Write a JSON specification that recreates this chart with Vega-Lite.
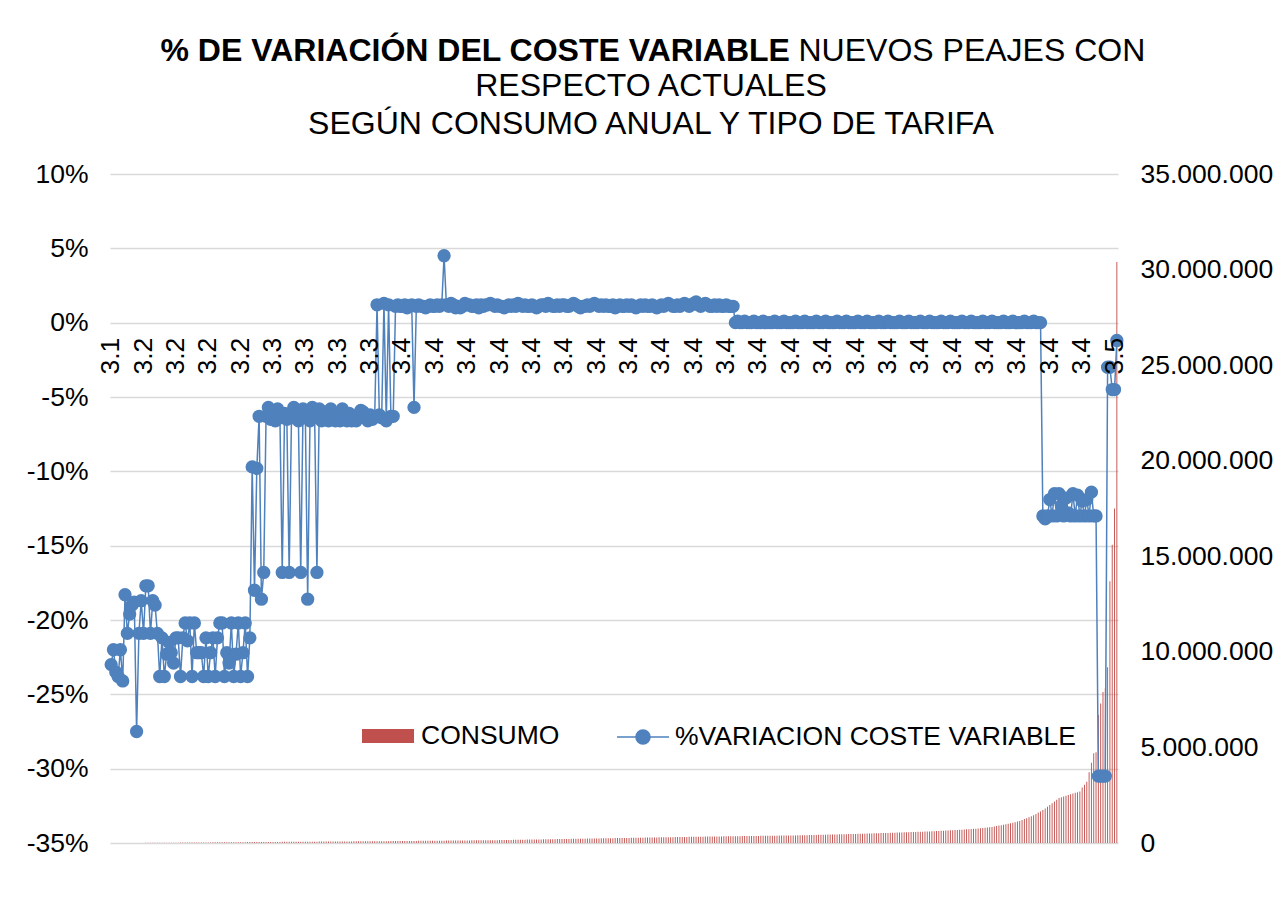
{
"$schema": "https://vega.github.io/schema/vega-lite/v6.json",
"width": 1008,
"height": 669,
"autosize": "none",
"padding": {"left": 110, "top": 174, "right": 167, "bottom": 81},
"background": "white",
"config": {"font": "Liberation Sans", "view": {"stroke": null}},
"title": {"text": ["RESPECTO ACTUALES", "SEGÚN CONSUMO ANUAL Y TIPO DE TARIFA"], "fontSize": 32, "fontWeight": "normal", "color": "#000000", "lineHeight": 38, "anchor": "middle", "dx": 37, "offset": -107},
"data": {"values": [
{"i":0,"t":"3.1","p":-23.0,"c":400},{"i":1,"t":"3.1","p":-22.0,"c":700},{"i":2,"t":"3.1","p":-23.5,"c":1000},{"i":3,"t":"3.1","p":-23.8,"c":1300},{"i":4,"t":"3.1","p":-22.0,"c":1600},{"i":5,"t":"3.1","p":-24.1,"c":2000},{"i":6,"t":"3.1","p":-18.3,"c":2300},{"i":7,"t":"3.1","p":-20.9,"c":2700},{"i":8,"t":"3.1","p":-19.6,"c":3000},{"i":9,"t":"3.1","p":-19.0,"c":3400},{"i":10,"t":"3.1","p":-18.8,"c":3800},{"i":11,"t":"3.1","p":-27.5,"c":4200},{"i":12,"t":"3.1","p":-20.9,"c":4700},
{"i":13,"t":"3.2","p":-18.7,"c":5100},{"i":14,"t":"3.2","p":-20.9,"c":6000},{"i":15,"t":"3.2","p":-17.7,"c":6900},{"i":16,"t":"3.2","p":-17.7,"c":7800},{"i":17,"t":"3.2","p":-20.9,"c":8700},{"i":18,"t":"3.2","p":-18.7,"c":9600},{"i":19,"t":"3.2","p":-19.0,"c":10500},{"i":20,"t":"3.2","p":-20.9,"c":11400},{"i":21,"t":"3.2","p":-23.8,"c":12300},{"i":22,"t":"3.2","p":-21.2,"c":13200},{"i":23,"t":"3.2","p":-23.8,"c":14100},{"i":24,"t":"3.2","p":-22.3,"c":15000},{"i":25,"t":"3.2","p":-21.5,"c":15900},{"i":26,"t":"3.2","p":-22.2,"c":16800},{"i":27,"t":"3.2","p":-22.9,"c":17700},{"i":28,"t":"3.2","p":-21.2,"c":18600},{"i":29,"t":"3.2","p":-21.2,"c":19500},{"i":30,"t":"3.2","p":-23.8,"c":20400},{"i":31,"t":"3.2","p":-21.2,"c":21300},{"i":32,"t":"3.2","p":-20.2,"c":22200},{"i":33,"t":"3.2","p":-21.4,"c":23100},{"i":34,"t":"3.2","p":-20.2,"c":24000},{"i":35,"t":"3.2","p":-23.8,"c":24900},{"i":36,"t":"3.2","p":-20.2,"c":25800},{"i":37,"t":"3.2","p":-22.2,"c":26700},{"i":38,"t":"3.2","p":-22.2,"c":27600},{"i":39,"t":"3.2","p":-22.2,"c":28500},{"i":40,"t":"3.2","p":-23.8,"c":29400},{"i":41,"t":"3.2","p":-21.2,"c":30300},{"i":42,"t":"3.2","p":-23.8,"c":31200},{"i":43,"t":"3.2","p":-22.2,"c":32100},{"i":44,"t":"3.2","p":-21.2,"c":33000},{"i":45,"t":"3.2","p":-23.8,"c":33900},{"i":46,"t":"3.2","p":-21.2,"c":34800},{"i":47,"t":"3.2","p":-20.2,"c":35700},{"i":48,"t":"3.2","p":-20.2,"c":36600},{"i":49,"t":"3.2","p":-23.8,"c":37500},{"i":50,"t":"3.2","p":-22.2,"c":38400},{"i":51,"t":"3.2","p":-22.9,"c":39300},{"i":52,"t":"3.2","p":-20.2,"c":40200},{"i":53,"t":"3.2","p":-23.8,"c":41100},{"i":54,"t":"3.2","p":-22.3,"c":42000},{"i":55,"t":"3.2","p":-20.2,"c":42900},{"i":56,"t":"3.2","p":-23.8,"c":43800},{"i":57,"t":"3.2","p":-22.2,"c":44700},{"i":58,"t":"3.2","p":-20.2,"c":45600},{"i":59,"t":"3.2","p":-23.8,"c":46500},{"i":60,"t":"3.2","p":-21.2,"c":47400},{"i":61,"t":"3.2","p":-9.7,"c":48300},{"i":62,"t":"3.2","p":-18.0,"c":49200},
{"i":63,"t":"3.3","p":-9.8,"c":50100},{"i":64,"t":"3.3","p":-6.3,"c":50900},{"i":65,"t":"3.3","p":-18.6,"c":51800},{"i":66,"t":"3.3","p":-16.8,"c":52600},{"i":67,"t":"3.3","p":-6.3,"c":53400},{"i":68,"t":"3.3","p":-5.7,"c":54300},{"i":69,"t":"3.3","p":-6.5,"c":55100},{"i":70,"t":"3.3","p":-6.0,"c":55900},{"i":71,"t":"3.3","p":-6.6,"c":56800},{"i":72,"t":"3.3","p":-5.8,"c":57600},{"i":73,"t":"3.3","p":-6.4,"c":58400},{"i":74,"t":"3.3","p":-16.8,"c":59300},{"i":75,"t":"3.3","p":-6.1,"c":60100},{"i":76,"t":"3.3","p":-6.5,"c":60900},{"i":77,"t":"3.3","p":-16.8,"c":61800},{"i":78,"t":"3.3","p":-6.4,"c":62600},{"i":79,"t":"3.3","p":-5.7,"c":63400},{"i":80,"t":"3.3","p":-6.3,"c":64300},{"i":81,"t":"3.3","p":-6.6,"c":65100},{"i":82,"t":"3.3","p":-16.8,"c":65900},{"i":83,"t":"3.3","p":-5.8,"c":66800},{"i":84,"t":"3.3","p":-6.4,"c":67600},{"i":85,"t":"3.3","p":-18.6,"c":68400},{"i":86,"t":"3.3","p":-6.6,"c":69300},{"i":87,"t":"3.3","p":-5.7,"c":70100},{"i":88,"t":"3.3","p":-6.2,"c":70900},{"i":89,"t":"3.3","p":-16.8,"c":71800},{"i":90,"t":"3.3","p":-5.8,"c":72600},{"i":91,"t":"3.3","p":-6.6,"c":73400},{"i":92,"t":"3.3","p":-6.0,"c":74300},{"i":93,"t":"3.3","p":-6.5,"c":75100},{"i":94,"t":"3.3","p":-6.6,"c":75900},{"i":95,"t":"3.3","p":-5.8,"c":76800},{"i":96,"t":"3.3","p":-6.4,"c":77600},{"i":97,"t":"3.3","p":-6.6,"c":78400},{"i":98,"t":"3.3","p":-6.2,"c":79300},{"i":99,"t":"3.3","p":-6.6,"c":80100},{"i":100,"t":"3.3","p":-5.8,"c":80900},{"i":101,"t":"3.3","p":-6.5,"c":81800},{"i":102,"t":"3.3","p":-6.6,"c":82600},{"i":103,"t":"3.3","p":-6.1,"c":83400},{"i":104,"t":"3.3","p":-6.6,"c":84300},{"i":105,"t":"3.3","p":-6.3,"c":85100},{"i":106,"t":"3.3","p":-6.6,"c":85900},{"i":107,"t":"3.3","p":-6.2,"c":86800},{"i":108,"t":"3.3","p":-5.9,"c":87600},{"i":109,"t":"3.3","p":-6.0,"c":88400},{"i":110,"t":"3.3","p":-6.4,"c":89300},{"i":111,"t":"3.3","p":-6.6,"c":90100},{"i":112,"t":"3.3","p":-6.2,"c":90900},{"i":113,"t":"3.3","p":-6.5,"c":91800},{"i":114,"t":"3.3","p":-6.3,"c":92600},{"i":115,"t":"3.3","p":1.2,"c":93400},{"i":116,"t":"3.3","p":-6.2,"c":94300},{"i":117,"t":"3.3","p":-6.4,"c":95100},{"i":118,"t":"3.3","p":1.3,"c":95900},{"i":119,"t":"3.3","p":-6.6,"c":96800},{"i":120,"t":"3.3","p":1.2,"c":97600},{"i":121,"t":"3.3","p":-6.3,"c":98400},{"i":122,"t":"3.3","p":-6.3,"c":99300},
{"i":123,"t":"3.4","p":1.1,"c":100500},{"i":124,"t":"3.4","p":1.2,"c":101600},{"i":125,"t":"3.4","p":1.1,"c":102800},{"i":126,"t":"3.4","p":1.1,"c":103900},{"i":127,"t":"3.4","p":1.2,"c":105000},{"i":128,"t":"3.4","p":1.0,"c":106100},{"i":129,"t":"3.4","p":1.1,"c":107300},{"i":130,"t":"3.4","p":1.2,"c":108400},{"i":131,"t":"3.4","p":-5.7,"c":109500},{"i":132,"t":"3.4","p":1.1,"c":110600},{"i":133,"t":"3.4","p":1.2,"c":111800},{"i":134,"t":"3.4","p":1.1,"c":112900},{"i":135,"t":"3.4","p":1.1,"c":114000},{"i":136,"t":"3.4","p":1.0,"c":115100},{"i":137,"t":"3.4","p":1.1,"c":116300},{"i":138,"t":"3.4","p":1.2,"c":117400},{"i":139,"t":"3.4","p":1.1,"c":118500},{"i":140,"t":"3.4","p":1.1,"c":119600},{"i":141,"t":"3.4","p":1.2,"c":120800},{"i":142,"t":"3.4","p":1.1,"c":121900},{"i":143,"t":"3.4","p":1.2,"c":123000},{"i":144,"t":"3.4","p":4.5,"c":124100},{"i":145,"t":"3.4","p":1.2,"c":125300},{"i":146,"t":"3.4","p":1.1,"c":126400},{"i":147,"t":"3.4","p":1.3,"c":127500},{"i":148,"t":"3.4","p":1.2,"c":128600},{"i":149,"t":"3.4","p":1.0,"c":129800},{"i":150,"t":"3.4","p":1.1,"c":130900},{"i":151,"t":"3.4","p":1.0,"c":132000},{"i":152,"t":"3.4","p":1.1,"c":133100},{"i":153,"t":"3.4","p":1.3,"c":134300},{"i":154,"t":"3.4","p":1.2,"c":135400},{"i":155,"t":"3.4","p":1.2,"c":136500},{"i":156,"t":"3.4","p":1.1,"c":137600},{"i":157,"t":"3.4","p":1.1,"c":138800},{"i":158,"t":"3.4","p":1.2,"c":139900},{"i":159,"t":"3.4","p":1.0,"c":141000},{"i":160,"t":"3.4","p":1.2,"c":142100},{"i":161,"t":"3.4","p":1.1,"c":143300},{"i":162,"t":"3.4","p":1.2,"c":144400},{"i":163,"t":"3.4","p":1.2,"c":145500},{"i":164,"t":"3.4","p":1.3,"c":146600},{"i":165,"t":"3.4","p":1.2,"c":147800},{"i":166,"t":"3.4","p":1.1,"c":148900},{"i":167,"t":"3.4","p":1.2,"c":150000},{"i":168,"t":"3.4","p":1.1,"c":152000},{"i":169,"t":"3.4","p":1.1,"c":154100},{"i":170,"t":"3.4","p":1.0,"c":156200},{"i":171,"t":"3.4","p":1.1,"c":158200},{"i":172,"t":"3.4","p":1.2,"c":160300},{"i":173,"t":"3.4","p":1.1,"c":162400},{"i":174,"t":"3.4","p":1.2,"c":164400},{"i":175,"t":"3.4","p":1.1,"c":166500},{"i":176,"t":"3.4","p":1.3,"c":168600},{"i":177,"t":"3.4","p":1.2,"c":170600},{"i":178,"t":"3.4","p":1.1,"c":172700},{"i":179,"t":"3.4","p":1.2,"c":174800},{"i":180,"t":"3.4","p":1.1,"c":176800},{"i":181,"t":"3.4","p":1.1,"c":178900},{"i":182,"t":"3.4","p":1.2,"c":181000},{"i":183,"t":"3.4","p":1.1,"c":183000},{"i":184,"t":"3.4","p":1.0,"c":185100},{"i":185,"t":"3.4","p":1.1,"c":187200},{"i":186,"t":"3.4","p":1.2,"c":189200},{"i":187,"t":"3.4","p":1.2,"c":191300},{"i":188,"t":"3.4","p":1.1,"c":193400},{"i":189,"t":"3.4","p":1.3,"c":195400},{"i":190,"t":"3.4","p":1.2,"c":197500},{"i":191,"t":"3.4","p":1.1,"c":199600},{"i":192,"t":"3.4","p":1.1,"c":201600},{"i":193,"t":"3.4","p":1.2,"c":203700},{"i":194,"t":"3.4","p":1.1,"c":205800},{"i":195,"t":"3.4","p":1.2,"c":207800},{"i":196,"t":"3.4","p":1.2,"c":209900},{"i":197,"t":"3.4","p":1.1,"c":212000},{"i":198,"t":"3.4","p":1.1,"c":214000},{"i":199,"t":"3.4","p":1.2,"c":216100},{"i":200,"t":"3.4","p":1.3,"c":218200},{"i":201,"t":"3.4","p":1.2,"c":220200},{"i":202,"t":"3.4","p":1.1,"c":222300},{"i":203,"t":"3.4","p":1.0,"c":224400},{"i":204,"t":"3.4","p":1.1,"c":226400},{"i":205,"t":"3.4","p":1.1,"c":228500},{"i":206,"t":"3.4","p":1.2,"c":230600},{"i":207,"t":"3.4","p":1.1,"c":232600},{"i":208,"t":"3.4","p":1.2,"c":234700},{"i":209,"t":"3.4","p":1.3,"c":236800},{"i":210,"t":"3.4","p":1.2,"c":238800},{"i":211,"t":"3.4","p":1.1,"c":240900},{"i":212,"t":"3.4","p":1.2,"c":243000},{"i":213,"t":"3.4","p":1.1,"c":245000},{"i":214,"t":"3.4","p":1.2,"c":247100},{"i":215,"t":"3.4","p":1.1,"c":249200},{"i":216,"t":"3.4","p":1.1,"c":251200},{"i":217,"t":"3.4","p":1.2,"c":253300},{"i":218,"t":"3.4","p":1.0,"c":255400},{"i":219,"t":"3.4","p":1.1,"c":257400},{"i":220,"t":"3.4","p":1.2,"c":259500},{"i":221,"t":"3.4","p":1.1,"c":261600},{"i":222,"t":"3.4","p":1.1,"c":263600},{"i":223,"t":"3.4","p":1.2,"c":265700},{"i":224,"t":"3.4","p":1.1,"c":267800},{"i":225,"t":"3.4","p":1.2,"c":269800},{"i":226,"t":"3.4","p":1.1,"c":271900},{"i":227,"t":"3.4","p":1.0,"c":274000},{"i":228,"t":"3.4","p":1.1,"c":276000},{"i":229,"t":"3.4","p":1.2,"c":278100},{"i":230,"t":"3.4","p":1.1,"c":280200},{"i":231,"t":"3.4","p":1.2,"c":282200},{"i":232,"t":"3.4","p":1.1,"c":284300},{"i":233,"t":"3.4","p":1.1,"c":286400},{"i":234,"t":"3.4","p":1.2,"c":288400},{"i":235,"t":"3.4","p":1.1,"c":290500},{"i":236,"t":"3.4","p":1.0,"c":292600},{"i":237,"t":"3.4","p":1.1,"c":294600},{"i":238,"t":"3.4","p":1.2,"c":296700},{"i":239,"t":"3.4","p":1.1,"c":298800},{"i":240,"t":"3.4","p":1.2,"c":300800},{"i":241,"t":"3.4","p":1.3,"c":302900},{"i":242,"t":"3.4","p":1.2,"c":305000},{"i":243,"t":"3.4","p":1.1,"c":307000},{"i":244,"t":"3.4","p":1.1,"c":309100},{"i":245,"t":"3.4","p":1.2,"c":311200},{"i":246,"t":"3.4","p":1.1,"c":313200},{"i":247,"t":"3.4","p":1.2,"c":315300},{"i":248,"t":"3.4","p":1.3,"c":317400},{"i":249,"t":"3.4","p":1.2,"c":319400},{"i":250,"t":"3.4","p":1.1,"c":321500},{"i":251,"t":"3.4","p":1.2,"c":323600},{"i":252,"t":"3.4","p":1.3,"c":325600},{"i":253,"t":"3.4","p":1.4,"c":327700},{"i":254,"t":"3.4","p":1.2,"c":329800},{"i":255,"t":"3.4","p":1.1,"c":331000},{"i":256,"t":"3.4","p":1.2,"c":332600},{"i":257,"t":"3.4","p":1.3,"c":334200},{"i":258,"t":"3.4","p":1.2,"c":335900},{"i":259,"t":"3.4","p":1.1,"c":337500},{"i":260,"t":"3.4","p":1.1,"c":339100},{"i":261,"t":"3.4","p":1.2,"c":340800},{"i":262,"t":"3.4","p":1.1,"c":342400},{"i":263,"t":"3.4","p":1.2,"c":344000},{"i":264,"t":"3.4","p":1.1,"c":345700},{"i":265,"t":"3.4","p":1.1,"c":347300},{"i":266,"t":"3.4","p":1.2,"c":348900},{"i":267,"t":"3.4","p":1.1,"c":350600},{"i":268,"t":"3.4","p":1.1,"c":352200},{"i":269,"t":"3.4","p":1.1,"c":353800},
{"i":270,"t":"3.4","p":0.0,"c":355500},{"i":271,"t":"3.4","p":0.1,"c":357100},{"i":272,"t":"3.4","p":0.0,"c":358700},{"i":273,"t":"3.4","p":0.0,"c":360400},{"i":274,"t":"3.4","p":0.1,"c":362000},{"i":275,"t":"3.4","p":0.0,"c":363600},{"i":276,"t":"3.4","p":0.0,"c":365300},{"i":277,"t":"3.4","p":0.0,"c":366900},{"i":278,"t":"3.4","p":0.1,"c":368500},{"i":279,"t":"3.4","p":0.0,"c":370200},{"i":280,"t":"3.4","p":0.0,"c":371800},{"i":281,"t":"3.4","p":0.0,"c":373400},{"i":282,"t":"3.4","p":0.1,"c":375100},{"i":283,"t":"3.4","p":0.0,"c":376700},{"i":284,"t":"3.4","p":0.0,"c":378300},{"i":285,"t":"3.4","p":0.0,"c":380000},{"i":286,"t":"3.4","p":0.0,"c":381600},{"i":287,"t":"3.4","p":0.1,"c":383200},{"i":288,"t":"3.4","p":0.0,"c":384900},{"i":289,"t":"3.4","p":0.0,"c":386500},{"i":290,"t":"3.4","p":0.0,"c":388100},{"i":291,"t":"3.4","p":0.1,"c":389800},{"i":292,"t":"3.4","p":0.0,"c":391400},{"i":293,"t":"3.4","p":0.0,"c":393000},{"i":294,"t":"3.4","p":0.0,"c":394700},{"i":295,"t":"3.4","p":0.0,"c":396300},{"i":296,"t":"3.4","p":0.1,"c":397900},{"i":297,"t":"3.4","p":0.0,"c":399600},{"i":298,"t":"3.4","p":0.0,"c":401200},{"i":299,"t":"3.4","p":0.0,"c":404300},{"i":300,"t":"3.4","p":0.1,"c":407400},{"i":301,"t":"3.4","p":0.0,"c":410500},{"i":302,"t":"3.4","p":0.0,"c":413600},{"i":303,"t":"3.4","p":0.0,"c":416700},{"i":304,"t":"3.4","p":0.0,"c":419800},{"i":305,"t":"3.4","p":0.1,"c":422900},{"i":306,"t":"3.4","p":0.0,"c":426000},{"i":307,"t":"3.4","p":0.0,"c":429100},{"i":308,"t":"3.4","p":0.0,"c":432200},{"i":309,"t":"3.4","p":0.1,"c":435300},{"i":310,"t":"3.4","p":0.0,"c":438400},{"i":311,"t":"3.4","p":0.0,"c":441500},{"i":312,"t":"3.4","p":0.0,"c":444600},{"i":313,"t":"3.4","p":0.0,"c":447700},{"i":314,"t":"3.4","p":0.1,"c":450800},{"i":315,"t":"3.4","p":0.0,"c":453900},{"i":316,"t":"3.4","p":0.0,"c":457000},{"i":317,"t":"3.4","p":0.0,"c":460100},{"i":318,"t":"3.4","p":0.1,"c":463200},{"i":319,"t":"3.4","p":0.0,"c":466300},{"i":320,"t":"3.4","p":0.0,"c":469400},{"i":321,"t":"3.4","p":0.0,"c":472500},{"i":322,"t":"3.4","p":0.0,"c":475600},{"i":323,"t":"3.4","p":0.1,"c":478700},{"i":324,"t":"3.4","p":0.0,"c":481800},{"i":325,"t":"3.4","p":0.0,"c":484900},{"i":326,"t":"3.4","p":0.0,"c":488000},{"i":327,"t":"3.4","p":0.1,"c":491000},{"i":328,"t":"3.4","p":0.0,"c":495300},{"i":329,"t":"3.4","p":0.0,"c":499600},{"i":330,"t":"3.4","p":0.0,"c":503900},{"i":331,"t":"3.4","p":0.0,"c":508200},{"i":332,"t":"3.4","p":0.1,"c":512500},{"i":333,"t":"3.4","p":0.0,"c":516800},{"i":334,"t":"3.4","p":0.0,"c":521100},{"i":335,"t":"3.4","p":0.0,"c":525400},{"i":336,"t":"3.4","p":0.1,"c":529700},{"i":337,"t":"3.4","p":0.0,"c":534000},{"i":338,"t":"3.4","p":0.0,"c":538300},{"i":339,"t":"3.4","p":0.0,"c":542600},{"i":340,"t":"3.4","p":0.0,"c":546900},{"i":341,"t":"3.4","p":0.1,"c":551200},{"i":342,"t":"3.4","p":0.0,"c":555500},{"i":343,"t":"3.4","p":0.0,"c":559800},{"i":344,"t":"3.4","p":0.0,"c":564100},{"i":345,"t":"3.4","p":0.1,"c":568400},{"i":346,"t":"3.4","p":0.0,"c":572700},{"i":347,"t":"3.4","p":0.0,"c":577000},{"i":348,"t":"3.4","p":0.0,"c":581300},{"i":349,"t":"3.4","p":0.0,"c":585600},{"i":350,"t":"3.4","p":0.1,"c":589900},{"i":351,"t":"3.4","p":0.0,"c":594200},{"i":352,"t":"3.4","p":0.0,"c":598500},{"i":353,"t":"3.4","p":0.0,"c":602800},{"i":354,"t":"3.4","p":0.1,"c":607100},{"i":355,"t":"3.4","p":0.0,"c":611400},{"i":356,"t":"3.4","p":0.0,"c":617000},{"i":357,"t":"3.4","p":0.0,"c":623000},{"i":358,"t":"3.4","p":0.0,"c":629000},{"i":359,"t":"3.4","p":0.1,"c":635500},{"i":360,"t":"3.4","p":0.0,"c":642000},{"i":361,"t":"3.4","p":0.0,"c":648500},{"i":362,"t":"3.4","p":0.0,"c":655000},{"i":363,"t":"3.4","p":0.1,"c":662000},{"i":364,"t":"3.4","p":0.0,"c":669000},{"i":365,"t":"3.4","p":0.0,"c":676000},{"i":366,"t":"3.4","p":0.0,"c":683500},{"i":367,"t":"3.4","p":0.0,"c":691000},{"i":368,"t":"3.4","p":0.1,"c":699000},{"i":369,"t":"3.4","p":0.0,"c":707000},{"i":370,"t":"3.4","p":0.0,"c":715500},{"i":371,"t":"3.4","p":0.0,"c":724000},{"i":372,"t":"3.4","p":0.1,"c":733000},{"i":373,"t":"3.4","p":0.0,"c":742000},{"i":374,"t":"3.4","p":0.0,"c":751500},{"i":375,"t":"3.4","p":0.0,"c":761000},{"i":376,"t":"3.4","p":0.0,"c":771000},{"i":377,"t":"3.4","p":0.1,"c":781000},{"i":378,"t":"3.4","p":0.0,"c":792000},{"i":379,"t":"3.4","p":0.0,"c":815000},{"i":380,"t":"3.4","p":0.0,"c":828000},{"i":381,"t":"3.4","p":0.1,"c":842000},{"i":382,"t":"3.4","p":0.0,"c":866000},{"i":383,"t":"3.4","p":0.0,"c":889000},{"i":384,"t":"3.4","p":0.0,"c":912000},{"i":385,"t":"3.4","p":0.0,"c":935000},{"i":386,"t":"3.4","p":0.1,"c":958000},{"i":387,"t":"3.4","p":0.0,"c":985000},{"i":388,"t":"3.4","p":0.0,"c":1010000},{"i":389,"t":"3.4","p":0.0,"c":1035000},{"i":390,"t":"3.4","p":0.1,"c":1060000},{"i":391,"t":"3.4","p":0.0,"c":1090000},{"i":392,"t":"3.4","p":0.0,"c":1120000},{"i":393,"t":"3.4","p":0.0,"c":1150000},{"i":394,"t":"3.4","p":0.0,"c":1200000},{"i":395,"t":"3.4","p":0.1,"c":1250000},{"i":396,"t":"3.4","p":0.0,"c":1300000},{"i":397,"t":"3.4","p":0.0,"c":1350000},{"i":398,"t":"3.4","p":0.0,"c":1400000},{"i":399,"t":"3.4","p":0.1,"c":1450000},{"i":400,"t":"3.4","p":0.0,"c":1520000},{"i":401,"t":"3.4","p":0.0,"c":1590000},{"i":402,"t":"3.4","p":0.0,"c":1650000},
{"i":403,"t":"3.4","p":-13.0,"c":1720000},{"i":404,"t":"3.4","p":-13.2,"c":1810000},{"i":405,"t":"3.4","p":-13.0,"c":1900000},{"i":406,"t":"3.4","p":-11.9,"c":1990000},{"i":407,"t":"3.4","p":-13.0,"c":2080000},{"i":408,"t":"3.4","p":-11.5,"c":2170000},{"i":409,"t":"3.4","p":-13.0,"c":2260000},{"i":410,"t":"3.4","p":-11.5,"c":2350000},{"i":411,"t":"3.4","p":-12.3,"c":2390000},{"i":412,"t":"3.4","p":-13.0,"c":2430000},{"i":413,"t":"3.4","p":-11.8,"c":2470000},{"i":414,"t":"3.4","p":-12.8,"c":2510000},{"i":415,"t":"3.4","p":-13.0,"c":2550000},{"i":416,"t":"3.4","p":-11.5,"c":2590000},{"i":417,"t":"3.4","p":-13.0,"c":2630000},{"i":418,"t":"3.4","p":-11.6,"c":2660000},{"i":419,"t":"3.4","p":-13.0,"c":2690000},{"i":420,"t":"3.4","p":-12.0,"c":2900000},{"i":421,"t":"3.4","p":-13.0,"c":3050000},{"i":422,"t":"3.4","p":-11.9,"c":3200000},{"i":423,"t":"3.4","p":-13.0,"c":3700000},{"i":424,"t":"3.4","p":-11.4,"c":4200000},{"i":425,"t":"3.4","p":-13.0,"c":4700000},{"i":426,"t":"3.4","p":-13.0,"c":4750000},{"i":427,"t":"3.4","p":-30.5,"c":6700000},{"i":428,"t":"3.4","p":-30.5,"c":7300000},{"i":429,"t":"3.4","p":-30.5,"c":7900000},
{"i":430,"t":"3.5","p":-30.5,"c":8100000},{"i":431,"t":"3.5","p":-3.0,"c":9200000},{"i":432,"t":"3.5","p":-3.0,"c":13700000},{"i":433,"t":"3.5","p":-4.5,"c":15600000},{"i":434,"t":"3.5","p":-4.5,"c":17500000},{"i":435,"t":"3.5","p":-1.2,"c":30400000}
]},
"encoding": {
  "x": {"field": "i", "type": "ordinal", "sort": null, "scale": {"paddingInner": 0.6, "paddingOuter": 0.3}, "axis": null}
},
"layer": [
  {
    "mark": {"type": "bar"},
    "encoding": {
      "y": {"field": "c", "type": "quantitative", "scale": {"domain": [0, 35000000], "nice": false},
        "axis": {"orient": "right", "values": [0, 5000000, 10000000, 15000000, 20000000, 25000000, 30000000, 35000000],
          "labelExpr": "replace(replace(format(datum.value, ','), ',', '.'), ',', '.')",
          "labelFontSize": 26.5, "labelColor": "#000000", "labelPadding": 22, "ticks": false, "domain": false, "grid": false,
          "title": "NUEVOS PEAJES CON", "titleAngle": 0, "titleAlign": "left", "titleBaseline": "alphabetic",
          "titleX": -320, "titleY": -114, "titleFontSize": 32, "titleFontWeight": "normal", "titleColor": "#000000"}},
      "color": {"datum": "CONSUMO", "type": "nominal", "scale": {"range": ["#C0504D"]},
        "legend": {"orient": "none", "legendX": 252, "legendY": 536, "title": null, "padding": 0,
          "symbolType": "M-1,-0.27H1V0.27H-1Z", "symbolSize": 2704, "symbolStrokeWidth": 0,
          "labelFontSize": 26.5, "labelColor": "#000000", "labelOffset": 7, "labelLimit": 0}}
    }
  },
  {
    "mark": {"type": "line", "strokeWidth": 1.5, "point": {"filled": true, "size": 177}},
    "encoding": {
      "y": {"field": "p", "type": "quantitative", "scale": {"domain": [-35, 10], "nice": false},
        "axis": {"orient": "left", "values": [-35, -30, -25, -20, -15, -10, -5, 0, 5, 10],
          "labelExpr": "datum.value + '%'",
          "labelFontSize": 26.5, "labelColor": "#000000", "labelPadding": 22, "ticks": false, "domain": false,
          "grid": true, "gridColor": "#D9D9D9", "gridWidth": 1.5,
          "title": "% DE VARIACIÓN DEL COSTE VARIABLE", "titleAngle": 0, "titleAlign": "left", "titleBaseline": "alphabetic",
          "titleX": 50, "titleY": -114, "titleFontSize": 32, "titleFontWeight": "bold", "titleColor": "#000000"}},
      "color": {"datum": "%VARIACION COSTE VARIABLE", "type": "nominal", "scale": {"range": ["#4F81BD"]},
        "legend": {"orient": "none", "legendX": 506, "legendY": 536, "title": null, "padding": 0,
          "symbolType": "M-1,0H1M-0.27,0A0.27,0.27 0 1,1 0.27,0A0.27,0.27 0 1,1 -0.27,0Z", "symbolSize": 2704,
          "symbolFillColor": "#4F81BD", "symbolStrokeColor": "#4F81BD", "symbolStrokeWidth": 1.5,
          "labelFontSize": 26.5, "labelColor": "#000000", "labelOffset": 5, "labelLimit": 0}}
    }
  },
  {
    "transform": [{"filter": "datum.i % 14 == 0"}],
    "mark": {"type": "text", "angle": 270, "align": "right", "baseline": "middle", "dx": -15, "fontSize": 26.5, "color": "#000000"},
    "encoding": {
      "y": {"datum": 0, "type": "quantitative", "scale": {"domain": [-35, 10], "nice": false}, "axis": null},
      "text": {"field": "t", "type": "nominal"}
    }
  }
],
"resolve": {"scale": {"y": "independent", "color": "independent"}}
}
